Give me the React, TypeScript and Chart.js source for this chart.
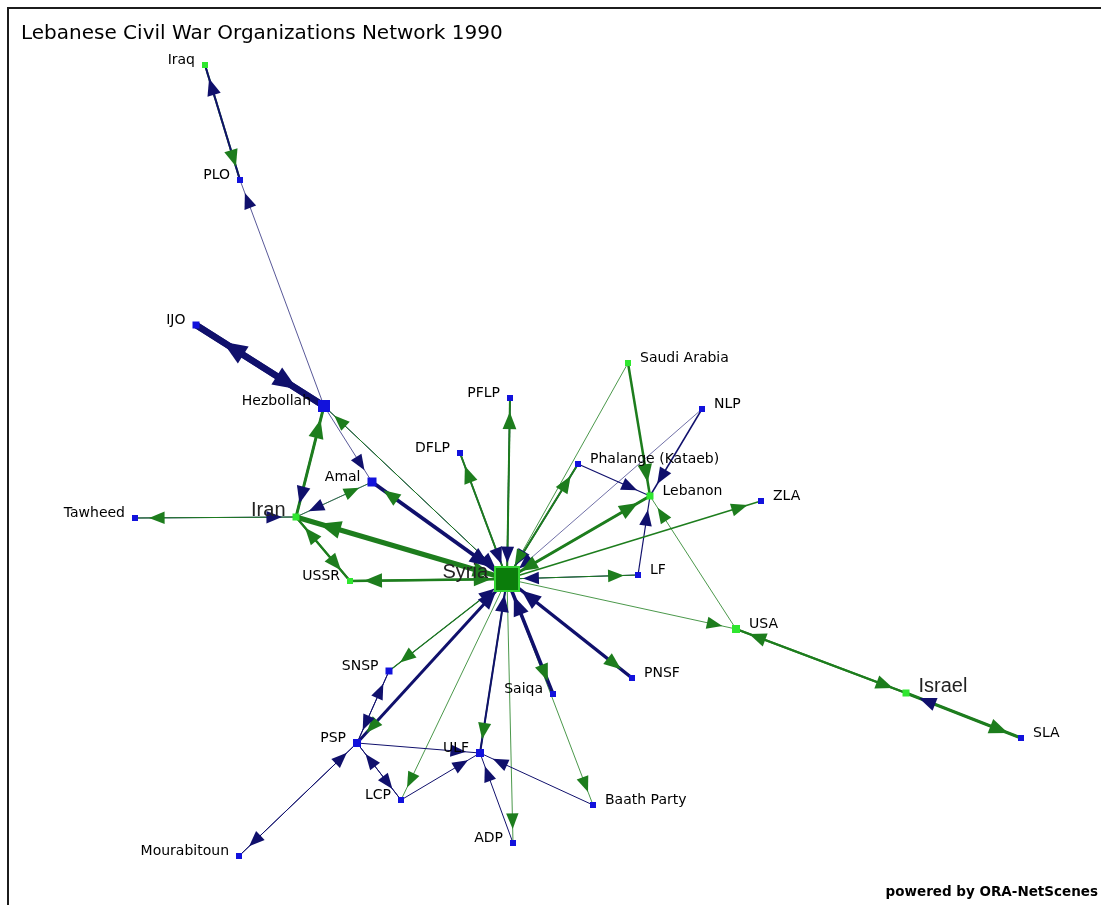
import React, { useEffect, useRef } from 'react';
import { Chart, registerables } from 'chart.js';

Chart.register(...registerables);

const TITLE = 'Lebanese Civil War Organizations Network 1990';
const CREDIT = 'powered by ORA-NetScenes';

// Nodes (layout coordinates)
const nodeNames = ['Iraq', 'PLO', 'IJO', 'Hezbollah', 'Amal', 'Iran', 'Tawheed', 'USSR', 'Syria', 'PFLP', 'DFLP', 'Saudi Arabia', 'NLP', 'Phalange (Kataeb)', 'Lebanon', 'ZLA', 'LF', 'USA', 'Israel', 'SLA', 'PNSF', 'Saiqa', 'SNSP', 'PSP', 'ULF', 'LCP', 'ADP', 'Baath Party', 'Mourabitoun'];
const nodeX = [205, 240, 196, 324, 372, 296, 135, 350, 507, 510, 460, 628, 702, 578, 650, 761, 638, 736, 906, 1021, 632, 553, 389, 357, 480, 401, 513, 593, 239];
const nodeY = [65, 180, 325, 406, 482, 517, 518, 581, 579, 398, 453, 363, 409, 464, 496, 501, 575, 629, 693, 738, 678, 694, 671, 743, 753, 800, 843, 805, 856];
const nodeKind = ['country', 'group', 'group', 'group', 'group', 'country', 'group', 'country', 'country', 'group', 'group', 'country', 'group', 'group', 'country', 'group', 'group', 'country', 'country', 'group', 'group', 'group', 'group', 'group', 'group', 'group', 'group', 'group', 'group'];
const nodeSize = [6, 6, 7, 12, 9, 7, 6, 6, 24, 6, 6, 6, 6, 6, 7, 6, 6, 8, 7, 6, 6, 6, 7, 8, 8, 6, 6, 6, 6];
const labelSide = ['L', 'L', 'L', 'L', 'L', 'L', 'L', 'L', 'L', 'L', 'L', 'R', 'R', 'R', 'R', 'R', 'R', 'R', 'R', 'R', 'R', 'L', 'L', 'L', 'L', 'L', 'L', 'R', 'L'];
const bigLabels = ['Iran', 'Syria', 'Israel'];

// Directed links: [from, to, strength]
const edgeList: [string, string, number][] = [
  ['PLO', 'Iraq', 2], ['Iraq', 'PLO', 2],
  ['IJO', 'Hezbollah', 6.5], ['Hezbollah', 'IJO', 6.5],
  ['Hezbollah', 'PLO', 0.7], ['Hezbollah', 'Amal', 0.7],
  ['Iran', 'Hezbollah', 3], ['Hezbollah', 'Iran', 2],
  ['Iran', 'Amal', 0.7], ['Amal', 'Iran', 0.7],
  ['Iran', 'Tawheed', 1], ['Tawheed', 'Iran', 1],
  ['Iran', 'USSR', 2], ['USSR', 'Iran', 2],
  ['Syria', 'Iran', 5], ['Iran', 'Syria', 3],
  ['Syria', 'USSR', 2.5], ['USSR', 'Syria', 2],
  ['Syria', 'Hezbollah', 1], ['Hezbollah', 'Syria', 1],
  ['Amal', 'Syria', 4], ['Syria', 'Amal', 2],
  ['Syria', 'PFLP', 2], ['PFLP', 'Syria', 1.5],
  ['Syria', 'DFLP', 2], ['DFLP', 'Syria', 1.5],
  ['Syria', 'Phalange (Kataeb)', 2], ['Phalange (Kataeb)', 'Syria', 1.5],
  ['Saudi Arabia', 'Syria', 0.8], ['NLP', 'Syria', 0.6],
  ['Syria', 'Lebanon', 3], ['Lebanon', 'Syria', 2],
  ['Syria', 'ZLA', 1.5],
  ['Syria', 'LF', 1.2], ['LF', 'Syria', 1.2],
  ['Syria', 'USA', 0.8],
  ['PNSF', 'Syria', 3.5], ['Syria', 'PNSF', 2],
  ['Saiqa', 'Syria', 3.5], ['Syria', 'Saiqa', 2],
  ['ULF', 'Syria', 2], ['Syria', 'ULF', 1.5],
  ['Syria', 'ADP', 0.8], ['Syria', 'Baath Party', 0.8], ['Syria', 'LCP', 0.8],
  ['SNSP', 'Syria', 1], ['Syria', 'SNSP', 1.2],
  ['PSP', 'Syria', 3], ['Syria', 'PSP', 1.5],
  ['Saudi Arabia', 'Lebanon', 2.5], ['NLP', 'Lebanon', 1.5],
  ['Phalange (Kataeb)', 'Lebanon', 1.2], ['LF', 'Lebanon', 1.2],
  ['USA', 'Lebanon', 0.8],
  ['USA', 'Israel', 2], ['Israel', 'USA', 2],
  ['Israel', 'SLA', 3], ['SLA', 'Israel', 2],
  ['PSP', 'SNSP', 1], ['SNSP', 'PSP', 1],
  ['PSP', 'ULF', 1], ['PSP', 'LCP', 1], ['LCP', 'PSP', 1],
  ['LCP', 'ULF', 1], ['ADP', 'ULF', 1], ['Baath Party', 'ULF', 1],
  ['Mourabitoun', 'PSP', 1], ['PSP', 'Mourabitoun', 1],
];

const GREEN_EDGE = '#1d7d1d';
const NAVY_EDGE = '#10106c';
const GREEN_NODE = '#2fe62f';
const BLUE_NODE = '#1212dc';

const idx = (n: string) => nodeNames.indexOf(n);
const edgeColor = (from: string) => (nodeKind[idx(from)] === 'country' ? GREEN_EDGE : NAVY_EDGE);

const sortedEdges = [...edgeList].sort((a, b) => b[2] - a[2]);

const networkPlugin = {
  id: 'network',
  beforeDatasetDraw(chart: any, args: any) {
    if (args.index !== 0) return;
    const ctx = chart.ctx;
    const sx = chart.scales.x;
    const sy = chart.scales.y;
    ctx.save();
    for (const [from, to, w] of edgeList) {
      const a = idx(from);
      const b = idx(to);
      const x1 = sx.getPixelForValue(nodeX[a]);
      const y1 = sy.getPixelForValue(nodeY[a]);
      const x2 = sx.getPixelForValue(nodeX[b]);
      const y2 = sy.getPixelForValue(nodeY[b]);
      const dx = x2 - x1;
      const dy = y2 - y1;
      const L = Math.hypot(dx, dy) || 1;
      const ux = dx / L;
      const uy = dy / L;
      const half = nodeSize[b] / 2;
      const ww = Math.max(1, w);
      const tip = Math.max(half + 4, 14) + Math.max(0, w - 3) * 5;
      const len = 14 + ww * 1.6;
      const hw = 5.5 + ww * 0.7;
      const tx = x2 - ux * tip;
      const ty = y2 - uy * tip;
      const bx = tx - ux * len;
      const by = ty - uy * len;
      ctx.beginPath();
      ctx.moveTo(tx, ty);
      ctx.lineTo(bx - uy * hw, by + ux * hw);
      ctx.lineTo(bx + uy * hw, by - ux * hw);
      ctx.closePath();
      ctx.fillStyle = edgeColor(from);
      ctx.fill();
    }
    ctx.restore();
  },
  afterDatasetsDraw(chart: any) {
    const ctx = chart.ctx;
    const sx = chart.scales.x;
    const sy = chart.scales.y;
    ctx.save();
    nodeNames.forEach((name, i) => {
      const x = sx.getPixelForValue(nodeX[i]);
      const y = sy.getPixelForValue(nodeY[i]);
      const half = nodeSize[i] / 2;
      const big = bigLabels.includes(name);
      ctx.font = big ? '20px "Liberation Sans", Arial, sans-serif' : '14px "DejaVu Sans", sans-serif';
      ctx.fillStyle = big ? '#222' : '#000';
      ctx.textBaseline = 'middle';
      const ly = y - (big ? 7 : 5);
      if (labelSide[i] === 'L') {
        ctx.textAlign = 'right';
        ctx.fillText(name, x - half - 7, ly);
      } else {
        ctx.textAlign = 'left';
        ctx.fillText(name, x + half + 9, ly);
      }
    });
    ctx.textBaseline = 'alphabetic';
    ctx.textAlign = 'left';
    ctx.fillStyle = '#000';
    ctx.font = '20px "DejaVu Sans", sans-serif';
    ctx.fillText(TITLE, sx.getPixelForValue(21), sy.getPixelForValue(39));
    ctx.textAlign = 'right';
    ctx.font = 'bold 13.5px "DejaVu Sans", sans-serif';
    ctx.fillText(CREDIT, sx.getPixelForValue(1098), sy.getPixelForValue(896));
    ctx.restore();
  },
};

export default function App() {
  const ref = useRef<HTMLCanvasElement>(null);
  useEffect(() => {
    if (!ref.current) return;
    const nodeDataset = {
      label: 'nodes',
      data: nodeNames.map((_, i) => ({ x: nodeX[i], y: nodeY[i] })),
      showLine: false,
      pointStyle: 'rect',
      pointRadius: nodeSize.map((s) => s / Math.SQRT2),
      backgroundColor: nodeNames.map((n, i) => (n === 'Syria' ? '#0b7d0b' : nodeKind[i] === 'country' ? GREEN_NODE : BLUE_NODE)),
      borderColor: nodeNames.map((n, i) => (n === 'Syria' ? '#35d535' : nodeKind[i] === 'country' ? GREEN_NODE : BLUE_NODE)),
      borderWidth: nodeNames.map((n) => (n === 'Syria' ? 2 : 0)),
    };
    const edgeDatasets = sortedEdges.map(([from, to, w]) => ({
      label: from + ' → ' + to,
      data: [
        { x: nodeX[idx(from)], y: nodeY[idx(from)] },
        { x: nodeX[idx(to)], y: nodeY[idx(to)] },
      ],
      showLine: true,
      borderColor: edgeColor(from),
      borderWidth: w,
      pointRadius: 0,
      fill: false,
      tension: 0,
    }));
    const chart = new Chart(ref.current, {
      type: 'scatter',
      data: { datasets: [nodeDataset as any, ...(edgeDatasets as any[])] },
      options: {
        responsive: false,
        animation: false,
        devicePixelRatio: 1,
        events: [],
        layout: { padding: 0, autoPadding: false },
        plugins: {
          legend: { display: false },
          tooltip: { enabled: false },
          title: { display: false },
        },
        scales: {
          x: { type: 'linear', min: 0, max: 1101, display: false },
          y: { type: 'linear', min: 0, max: 905, reverse: true, display: false },
        },
      },
      plugins: [networkPlugin as any],
    });
    return () => chart.destroy();
  }, []);
  return (
    <div style={{ position: 'absolute', left: 0, top: 0, width: 1101, height: 905, background: '#fff', overflow: 'hidden' }}>
      <canvas ref={ref} width={1101} height={905} style={{ display: 'block', width: 1101, height: 905 }} />
      <div
        style={{
          position: 'absolute',
          left: 7,
          top: 7,
          right: 0,
          bottom: 0,
          borderLeft: '2px solid #1c1c1c',
          borderTop: '2px solid #1c1c1c',
          pointerEvents: 'none',
        }}
      />
    </div>
  );
}
